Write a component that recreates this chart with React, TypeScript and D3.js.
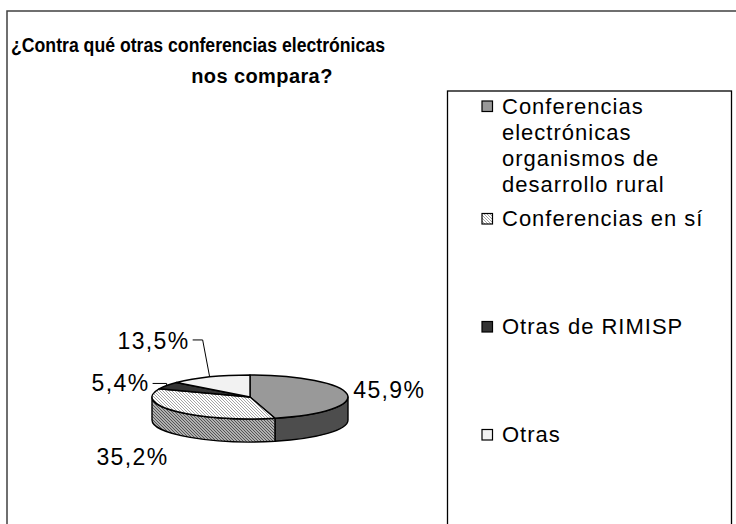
import React from 'react';
import * as d3 from 'd3';

// chart data
const titleLines = ['¿Contra qué otras conferencias electrónicas', 'nos compara?'];
const categories = [
  'Conferencias electrónicas organismos de desarrollo rural',
  'Conferencias en sí',
  'Otras de RIMISP',
  'Otras',
];
const legendLines = [
  ['Conferencias', 'electrónicas', 'organismos de', 'desarrollo rural'],
  ['Conferencias en sí'],
  ['Otras de RIMISP'],
  ['Otras'],
];
const values = [45.9, 35.2, 5.4, 13.5];
const valueLabels = ['45,9%', '35,2%', '5,4%', '13,5%'];

// look
const topFill = ['#999999', 'url(#hatchTop)', '#333333', '#f2f2f2'];
const sideFill = ['#4d4d4d', 'url(#hatchSide)', '#1a1a1a', '#bdbdbd'];
const FONT = '"Liberation Sans", Arial, sans-serif';

// pie geometry
const cx = 250;
const cy = 397;
const rx = 98;
const ry = 22;
const depth = 23;

// label offsets from the rim point at each slice's mid angle
const labelLayout = [
  { dx: 6, dy: 4, anchor: 'start', leader: null as null | number[][] },
  { dx: -44, dy: 53, anchor: 'middle', leader: null },
  { dx: -17, dy: 6, anchor: 'end', leader: [[0, -2], [-14, -2]] },
  { dx: -20, dy: -28, anchor: 'end', leader: [[-7, -37], [-17, -37]] },
];

const pt = (a: number, dy = 0): [number, number] => [
  cx + rx * Math.sin(a),
  cy - ry * Math.cos(a) + dy,
];
const f = (p: [number, number]) => `${p[0].toFixed(2)},${p[1].toFixed(2)}`;

export default function App() {
  const arcs = d3.pie<number>().sort(null).value((d) => d)(values);

  const legendY = d3.scalePoint<string>().domain(categories).range([118, 442]);
  const lineStep = 26.3;

  const topPath = (a0: number, a1: number) => {
    const large = a1 - a0 > Math.PI ? 1 : 0;
    return `M${cx},${cy} L${f(pt(a0))} A${rx},${ry} 0 ${large} 1 ${f(pt(a1))} Z`;
  };
  const sidePath = (a0: number, a1: number) =>
    `M${f(pt(a0))} A${rx},${ry} 0 0 1 ${f(pt(a1))} L${f(pt(a1, depth))} A${rx},${ry} 0 0 0 ${f(pt(a0, depth))} Z`;

  return (
    <svg
      width={736}
      height={524}
      style={{ position: 'absolute', left: 0, top: 0, background: '#fff' }}
    >
      <defs>
        <pattern id="hatchTop" width={3} height={3} patternUnits="userSpaceOnUse">
          <rect width={3} height={3} fill="#ffffff" />
          <path d="M-1,-1 L4,4 M-1,2 L1,4 M2,-1 L4,1" stroke="#9a9a9a" strokeWidth={0.9} />
        </pattern>
        <pattern id="hatchSide" width={3} height={3} patternUnits="userSpaceOnUse">
          <rect width={3} height={3} fill="#b0b0b0" />
          <path d="M-1,-1 L4,4 M-1,2 L1,4 M2,-1 L4,1" stroke="#4a4a4a" strokeWidth={0.9} />
        </pattern>
      </defs>

      {/* chart frame */}
      <rect x={7} y={11} width={760} height={540} fill="none" stroke="#404040" strokeWidth={1.5} />

      {/* title */}
      <g fontFamily={FONT} fontWeight="bold" fontSize={20} fill="#000">
        <text x={11} y={52} textLength={374} lengthAdjust="spacingAndGlyphs">
          {titleLines[0]}
        </text>
        <text x={262} y={83} textAnchor="middle" letterSpacing={0.4}>{titleLines[1]}</text>
      </g>

      {/* pie sides, then tops */}
      <g stroke="#000" strokeWidth={1.4} strokeLinejoin="round">
        {arcs.map((a, i) => {
          const a0 = Math.max(a.startAngle, Math.PI / 2);
          const a1 = Math.min(a.endAngle, (3 * Math.PI) / 2);
          if (a1 <= a0) return null;
          return <path key={'s' + i} d={sidePath(a0, a1)} fill={sideFill[i]} />;
        })}
        {arcs.map((a, i) => (
          <path key={'t' + i} d={topPath(a.startAngle, a.endAngle)} fill={topFill[i]} />
        ))}
      </g>

      {/* value labels */}
      <g fontFamily={FONT} fontSize={23} fill="#000">
        {arcs.map((a, i) => {
          const mid = (a.startAngle + a.endAngle) / 2;
          const [px, py] = pt(mid);
          const lay = labelLayout[i];
          return (
            <g key={'l' + i}>
              {lay.leader && (
                <polyline
                  points={[[px, py], ...lay.leader.map(([lx, ly]) => [px + lx, py + ly])]
                    .map((p) => p.join(','))
                    .join(' ')}
                  fill="none"
                  stroke="#000"
                  strokeWidth={1}
                />
              )}
              <text
                x={px + lay.dx}
                y={py + lay.dy}
                textAnchor={lay.anchor as any}
                letterSpacing={1.4}
              >
                {valueLabels[i]}
              </text>
            </g>
          );
        })}
      </g>

      {/* legend */}
      <rect x={447.5} y={91} width={284} height={460} fill="#fff" stroke="#000" strokeWidth={1.3} />
      <g fontFamily={FONT} fontSize={22} fill="#000">
        {categories.map((c, i) => {
          // taller entries start a little higher
          const y = (legendY(c) as number) - (legendLines[i].length - 1) * 1.5;
          return (
            <g key={c}>
              <rect
                x={482}
                y={y - 12.5}
                width={10.5}
                height={10.5}
                fill={topFill[i]}
                stroke="#000"
                strokeWidth={1.2}
              />
              <text x={502} y={y} letterSpacing={1}>
                {legendLines[i].map((ln, j) => (
                  <tspan key={j} x={502} y={y + j * lineStep}>
                    {ln}
                  </tspan>
                ))}
              </text>
            </g>
          );
        })}
      </g>
    </svg>
  );
}
